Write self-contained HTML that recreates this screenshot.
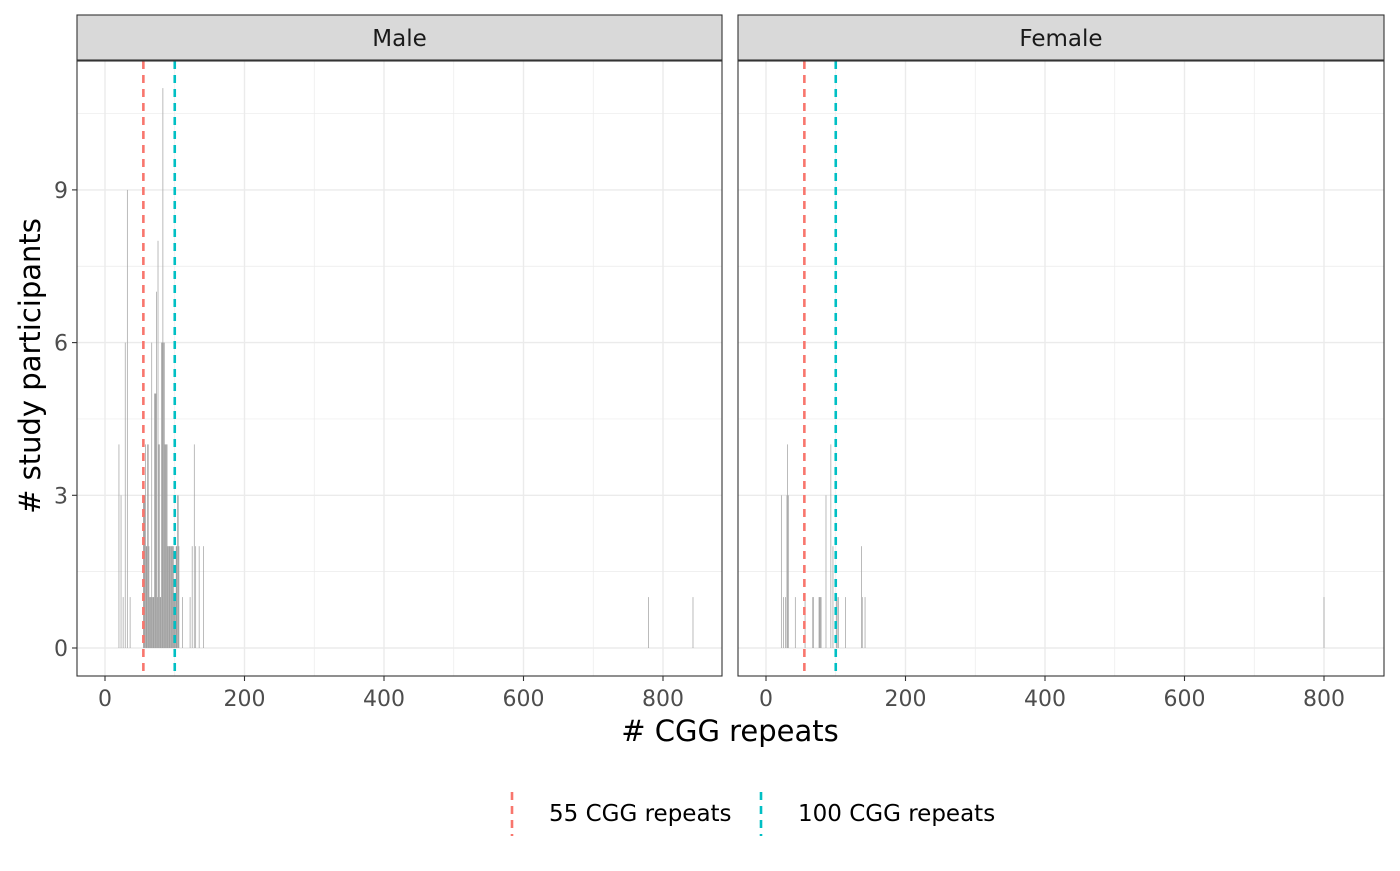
<!DOCTYPE html>
<html><head><meta charset="utf-8"><style>
body{margin:0;background:#fff;font-family:"Liberation Sans","DejaVu Sans",sans-serif}
svg text{font-family:"DejaVu Sans","Liberation Sans",sans-serif}
</style></head><body>
<svg id="chart" width="1400" height="866" xmlns="http://www.w3.org/2000/svg"></svg>
<script>
const panels = ["Male", "Female"];
const maleValues = [20,23,26,29,32,36,55,56,57,58,59,60,61,62,63,64,65,66,67,68,69,70,71,72,73,74,75,76,77,78,79,80,81,82,83,84,85,86,87,88,89,90,91,92,93,94,95,96,97,98,99,100,101,102,103,104,105,106,111,122,125,128,130,135,141,779,843];
const maleCounts = [4,3,1,6,9,1,3,3,3,4,2,2,4,4,2,1,1,1,6,1,1,1,5,5,5,7,1,8,4,4,1,1,6,6,11,6,6,4,4,4,4,2,2,2,2,2,2,2,2,2,1,1,1,2,2,3,3,2,1,1,2,4,2,2,2,1,1];
const femaleValues = [22,25,28,30,31,32,42,56,67,68,76,77,78,79,86,93,96,101,102,104,114,137,138,142,800];
const femaleCounts = [3,1,1,3,4,3,1,1,1,1,1,1,1,1,3,4,2,1,1,1,1,2,1,1,1];
const xTicks = [0,200,400,600,800];
const yTicks = [0,3,6,9];
const refValues = [55,100];
const refLabels = ["55 CGG repeats","100 CGG repeats"];
const refColors = ["#F8766D","#00BFC4"];

const NS="http://www.w3.org/2000/svg";
const svgEl=document.getElementById('chart');
function mk(tag,attrs,parent){const e=document.createElementNS(NS,tag);for(const k in attrs)e.setAttribute(k,attrs[k]);(parent||svgEl).appendChild(e);return e;}
const panelX=[[77,722],[738,1384]];
const plotTop=61,plotBottom=676;
const yScale=v=>648-v*50.9;
const pxPerUnit=0.6975;
const dataSets=[[maleValues,maleCounts],[femaleValues,femaleCounts]];

panels.forEach((p,i)=>{
  const [x0,x1]=panelX[i];
  const zero=x0+28;
  const xScale=v=>zero+v*pxPerUnit;
  const g=mk('g',{});
  
  
  mk('rect',{x:x0,y:plotTop,width:x1-x0,height:plotBottom-plotTop,fill:'#fff'},g);
  for(let v=1.5;v<12;v+=3){mk('line',{x1:x0,x2:x1,y1:yScale(v),y2:yScale(v),stroke:'#ebebeb','stroke-width':0.7},g);}
  for(let v=100;v<=900;v+=200){if(xScale(v)<x1)mk('line',{x1:xScale(v),x2:xScale(v),y1:plotTop,y2:plotBottom,stroke:'#ebebeb','stroke-width':0.7},g);}
  yTicks.forEach(v=>mk('line',{x1:x0,x2:x1,y1:yScale(v),y2:yScale(v),stroke:'#ebebeb','stroke-width':1.4},g));
  xTicks.forEach(v=>mk('line',{x1:xScale(v),x2:xScale(v),y1:plotTop,y2:plotBottom,stroke:'#ebebeb','stroke-width':1.4},g));
  const [vals,cnts]=dataSets[i];
  vals.forEach((v,k)=>{
    const b=mk('rect',{x:xScale(v-0.5),y:yScale(cnts[k]),width:pxPerUnit,height:yScale(0)-yScale(cnts[k]),fill:'#9e9e9e'},g);
    
    
  });
  refValues.forEach((v,k)=>{
    const l=mk('line',{x1:xScale(v),x2:xScale(v),y1:plotTop,y2:plotBottom,stroke:refColors[k],'stroke-width':2.6,'stroke-dasharray':'8,6'},g);
    
    
  });
  mk('rect',{x:x0,y:plotTop,width:x1-x0,height:plotBottom-plotTop,fill:'none',stroke:'#333','stroke-width':1.1},g);
  const s=mk('rect',{x:x0,y:15,width:x1-x0,height:45,fill:'#d9d9d9',stroke:'#333','stroke-width':1.1},g);
  
  
  const st=mk('text',{x:(x0+x1)/2,y:46,'text-anchor':'middle','font-size':23,fill:'#1a1a1a'},g);st.textContent=p;
  
  
  xTicks.forEach(v=>{
    mk('line',{x1:xScale(v),x2:xScale(v),y1:plotBottom,y2:plotBottom+5,stroke:'#333','stroke-width':1.1},g);
    const t=mk('text',{x:xScale(v),y:706,'text-anchor':'middle','font-size':22,fill:'#4d4d4d'},g);t.textContent=v;
    
    
  });
  if(i===0){
    yTicks.forEach(v=>{
      mk('line',{x1:x0-5,x2:x0,y1:yScale(v),y2:yScale(v),stroke:'#333','stroke-width':1.1},g);
      const t=mk('text',{x:x0-9,y:yScale(v)+8,'text-anchor':'end','font-size':22,fill:'#4d4d4d'},g);t.textContent=v;
      
      
    });
  }
});
const xt=mk('text',{x:730,y:741,'text-anchor':'middle','font-size':29,fill:'#000'});xt.textContent='# CGG repeats';


const yt=mk('text',{x:0,y:0,'text-anchor':'middle','font-size':29,fill:'#000',transform:'translate(40,366) rotate(-90)'});yt.textContent='# study participants';


const legX=[512,761];
refLabels.forEach((lab,k)=>{
  const g=mk('g',{});
  
  
  mk('line',{x1:legX[k],x2:legX[k],y1:792,y2:836,stroke:refColors[k],'stroke-width':2.6,'stroke-dasharray':'8,6'},g);
  const t=mk('text',{x:legX[k]+37,y:821,'font-size':23,fill:'#000'},g);t.textContent=lab;
});
</script>
</body></html>
